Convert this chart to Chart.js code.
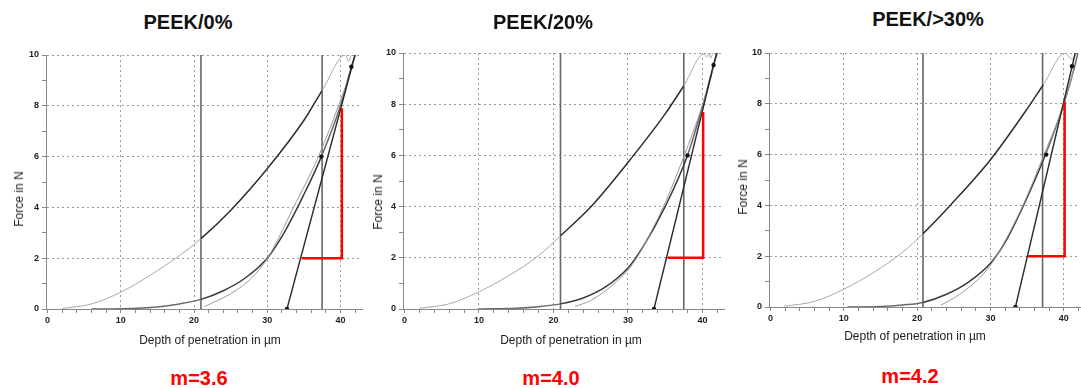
<!DOCTYPE html>
<html>
<head>
<meta charset="utf-8">
<script src="https://cdn.jsdelivr.net/npm/chart.js@4.4.0/dist/chart.umd.min.js"></script>
<style>
body { margin:0; width:1081px; height:388px; overflow:hidden; background:#fff; position:relative;
       font-family:"Liberation Sans", Arial, sans-serif; }
canvas { position:absolute; }
.lbl { position:absolute; white-space:nowrap; transform:translate(-50%,-50%); }
.title { font-weight:bold; font-size:20px; color:#111; }
.m { font-weight:bold; font-size:20px; color:#ff0000; }
.ax { font-size:12px; color:#222; }
.ay { font-size:12px; color:#222; transform:translate(-50%,-50%) rotate(-90deg); }
</style>
</head>
<body>
<script>
// ---- data (depth in µm, force in N) ----
var titles = ["PEEK/0%", "PEEK/20%", "PEEK/>30%"];
var slopes = ["m=3.6", "m=4.0", "m=4.2"];
var xTitle = "Depth of penetration  in µm";
var yTitle = "Force in N";

// PEEK/0%
var load0 = [[2,0.02],[6,0.2],[10,0.66],[14,1.33],[18,2.1],[20.95,2.77],[25,3.88],[30,5.52],[35,7.42],[37.5,8.6],[40.7,10],[41.1,9.75],[41.5,10]];
var unload0 = [[6,0],[10,0.01],[15,0.08],[18,0.2],[20.95,0.38],[24,0.72],[27,1.22],[30,2.0],[32.5,3.1],[35,4.5],[37.4,6.0],[40,8.0],[41.5,9.54],[42,10]];
var fit0 = [[21.4,0.09],[25,0.6],[27.5,1.12],[30,1.98],[33.6,4.0],[37,6.0],[40,8.2],[41,9.0]];
var tangent0 = [[32.7,0],[42,10]];
var dots0 = [[32.7,0],[37.4,6],[41.5,9.54]];
var vlines0 = [20.95, 37.5];
var red0 = [[34.7,2],[40.2,2],[40.2,7.9]];

// PEEK/20%
var load1 = [[2,0.03],[6,0.2],[10,0.67],[14,1.3],[18,2.08],[20.95,2.86],[25,3.98],[30,5.72],[35,7.62],[37.5,8.72],[40.2,9.95],[40.6,9.85],[40.9,10],[41.1,9.8],[41.4,10]];
var unload1 = [[10,0],[15,0.03],[18,0.09],[20.95,0.2],[24,0.43],[27,0.86],[30,1.6],[32,2.42],[35,4.0],[38,6.0],[40.1,8.0],[41.5,9.53],[42,10]];
var fit1 = [[22.9,0.1],[25,0.33],[28,0.95],[30,1.52],[31.2,2.0],[33,2.95],[35,4.15],[37.5,5.95],[40,7.95],[41.3,9.2]];
var tangent1 = [[33.5,0],[41.9,10]];
var dots1 = [[33.5,0],[38.0,6],[41.5,9.53]];
var vlines1 = [20.95, 37.5];
var red1 = [[35.3,2],[40.1,2],[40.1,7.7]];

// PEEK/>30%
var load2 = [[1.9,0.03],[6,0.22],[10,0.7],[14,1.35],[18,2.15],[20.8,2.89],[24.5,4.0],[30,5.8],[35,7.8],[37.2,8.75],[40.2,10],[40.7,9.85],[41.2,9.75],[41.5,10]];
var unload2 = [[10.5,0],[15,0.02],[18,0.08],[20.8,0.18],[24,0.5],[27,0.98],[30,1.72],[32,2.55],[34.5,4.0],[37.5,6.0],[40,8.0],[41.5,9.5],[41.9,10]];
var fit2 = [[23.2,0.07],[25,0.35],[28,1.0],[30,1.65],[32,2.6],[34.5,4.05],[37.3,6.0],[40,8.0],[41.3,9.3]];
var tangent2 = [[33.4,0],[41.55,10]];
var dots2 = [[33.4,0],[37.6,6],[41.1,9.48]];
var vlines2 = [20.8, 37.1];
var red2 = [[35.1,2],[40.1,2],[40.1,8.1]];

var xMin = [-0.22, -0.19, -0.19];
var xMax = [42.95, 42.9, 42.2];

// ---- layout (page pixels) ----
var areas = [
    {l:46, t:55, r:362, b:309},
    {l:403, t:53, r:724, b:309},
    {l:769, t:53, r:1080, b:307}
];
var titlePos = [[188, 22], [543, 22], [928, 19]];
var mPos = [[199, 378], [551, 378], [910, 376]];
var xTitlePos = [[210, 340], [571, 340], [915, 336]];
var yTitlePos = [[19, 199], [378, 202], [743, 187]];

var loads = [load0, load1, load2];
var unloads = [unload0, unload1, unload2];
var fits = [fit0, fit1, fit2];
var tangents = [tangent0, tangent1, tangent2];
var dots = [dots0, dots1, dots2];
var vlines = [vlines0, vlines1, vlines2];
var reds = [red0, red1, red2];

function pts(a) {
    return a.map(function (p) { return {x: p[0], y: p[1]}; });
}

function addLabel(cls, text, pos) {
    var d = document.createElement("div");
    d.className = "lbl " + cls;
    d.textContent = text;
    d.style.left = pos[0] + "px";
    d.style.top = pos[1] + "px";
    document.body.appendChild(d);
}

function makeChart(i) {
    var a = areas[i];
    var cv = document.createElement("canvas");
    var w = a.r - a.l + 46 + 4, h = a.b - a.t + 10 + 30;
    cv.width = w; cv.height = h;
    cv.style.left = (a.l - 46) + "px";
    cv.style.top = (a.t - 10) + "px";
    cv.style.width = w + "px"; cv.style.height = h + "px";
    document.body.appendChild(cv);

    var v = vlines[i];
    // the part of a curve between the two vertical markers is drawn darker
    var inside = function (c) {
        var mx = (c.p0.parsed.x + c.p1.parsed.x) / 2;
        return mx > v[0] && mx < v[1];
    };

    var datasets = [
        {data: pts(reds[i]), borderColor: "#ff0000", borderWidth: 2.5, pointRadius: 0},
        {data: pts(dots[i]), showLine: false, pointRadius: 2.2, pointBackgroundColor: "#111", pointBorderWidth: 0},
        {data: pts(tangents[i]), borderColor: "#2a2a2a", borderWidth: 1.4, pointRadius: 0},
        {data: pts(fits[i]), borderColor: "#9a9a9a", borderWidth: 1, pointRadius: 0, cubicInterpolationMode: "monotone"},
        {data: pts(unloads[i]), borderColor: "#555", borderWidth: 1.5, pointRadius: 0, cubicInterpolationMode: "monotone",
         segment: {borderColor: function (c) { return inside(c) ? "#3a3a3a" : "#6a6a6a"; }}},
        {data: pts(loads[i]), borderColor: "#aaa", borderWidth: 1, pointRadius: 0, cubicInterpolationMode: "monotone",
         segment: {borderColor: function (c) { return inside(c) ? "#2e2e2e" : "#a8a8a8"; },
                   borderWidth: function (c) { return inside(c) ? 1.5 : 1; }}},
        {data: [{x: v[0], y: 0}, {x: v[0], y: 10}], borderColor: "#666", borderWidth: 1.6, pointRadius: 0},
        {data: [{x: v[1], y: 0}, {x: v[1], y: 10}], borderColor: "#666", borderWidth: 1.6, pointRadius: 0}
    ];

    new Chart(cv.getContext("2d"), {
        type: "line",
        data: {datasets: datasets},
        options: {
            responsive: false,
            animation: false,
            events: [],
            layout: {padding: {left: 0, top: 10, right: 4, bottom: 0}},
            plugins: {legend: {display: false}, tooltip: {enabled: false}},
            scales: {
                x: {
                    type: "linear", min: xMin[i], max: xMax[i],
                    afterFit: function (s) { s.height = 30; },
                    ticks: {stepSize: 2, includeBounds: false, autoSkip: false, maxRotation: 0, padding: 2,
                            color: "#222", font: {family: "Liberation Sans", size: 9, weight: "bold"},
                            callback: function (val) { return val % 10 === 0 ? val : ""; }},
                    grid: {color: function (c) { return (c.tick && c.tick.value % 10 === 0 && c.tick.value > 0) ? "#9a9a9a" : "rgba(0,0,0,0)"; },
                           tickColor: "#888", tickLength: 4},
                    border: {color: "#888", width: 1, dash: [2, 3]}
                },
                y: {
                    type: "linear", min: 0, max: 10,
                    afterFit: function (s) { s.width = 46; },
                    ticks: {stepSize: 1, autoSkip: false, padding: 3,
                            color: "#222", font: {family: "Liberation Sans", size: 9, weight: "bold"},
                            callback: function (val) { return val % 2 === 0 ? val : ""; }},
                    grid: {color: function (c) { return (c.tick && c.tick.value % 2 === 0 && c.tick.value > 0) ? "#9a9a9a" : "rgba(0,0,0,0)"; },
                           tickColor: "#888", tickLength: 4},
                    border: {color: "#888", width: 1, dash: [2, 3]}
                }
            }
        }
    });

    addLabel("title", titles[i], titlePos[i]);
    addLabel("m", slopes[i], mPos[i]);
    addLabel("ax", xTitle, xTitlePos[i]);
    addLabel("ay", yTitle, yTitlePos[i]);
}

window.onload = function () {
    for (var i = 0; i < 3; i++) makeChart(i);
};
</script>
</body>
</html>
